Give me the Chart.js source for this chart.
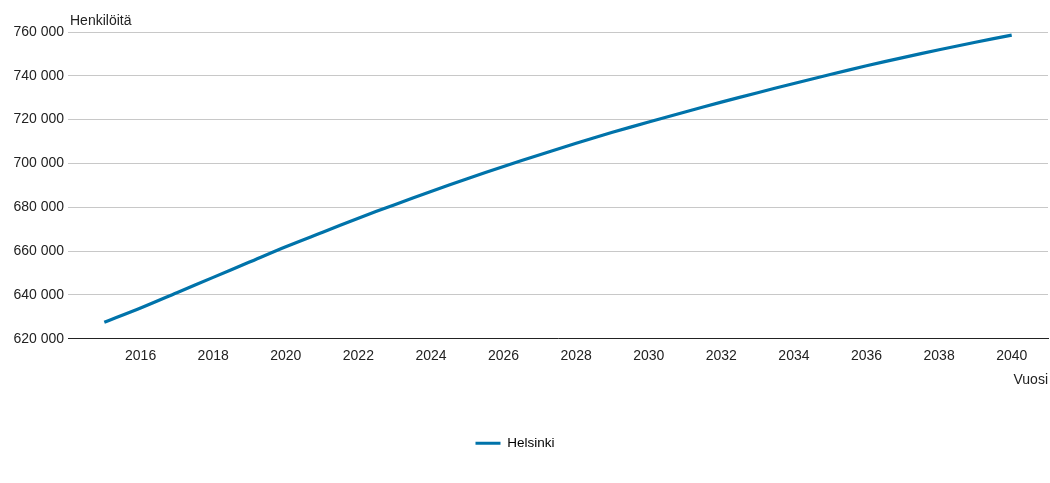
<!DOCTYPE html>
<html lang="fi">
<head>
<meta charset="utf-8">
<script src="https://cdn.jsdelivr.net/npm/chart.js@4"></script>
<style>
  html, body { margin: 0; padding: 0; background: #fff; }
  #wrap { width: 1050px; height: 483px; position: relative; }
</style>
</head>
<body>
<div id="wrap"><canvas id="vaestoChart"></canvas></div>
<script>
// Helsingin väestöennuste 2015–2040
const vuodet = [2015, 2016, 2017, 2018, 2019, 2020, 2021, 2022, 2023, 2024, 2025, 2026, 2027,
                2028, 2029, 2030, 2031, 2032, 2033, 2034, 2035, 2036, 2037, 2038, 2039, 2040];
const helsinki = [627500, 634000, 641000, 648000, 655000, 662000, 668500, 675000, 681200, 687200,
                  693000, 698600, 704000, 709200, 714200, 718900, 723500, 728000, 732300, 736500,
                  740600, 744600, 748300, 751900, 755300, 758600];
const xTicks = [2016, 2018, 2020, 2022, 2024, 2026, 2028, 2030, 2032, 2034, 2036, 2038, 2040];
const yTicks = [620000, 640000, 660000, 680000, 700000, 720000, 740000, 760000];

const FONT = '"Liberation Sans", Arial, sans-serif';
const TEXT = '#222';

// "Henkilöitä" above the plot, left aligned with the y axis
const yTitlePlugin = {
    id: 'yTitle',
    afterDraw(chart) {
        const { ctx, chartArea } = chart;
        ctx.save();
        ctx.font = '14px ' + FONT;
        ctx.fillStyle = TEXT;
        ctx.textAlign = 'left';
        ctx.textBaseline = 'alphabetic';
        ctx.fillText('Henkilöitä', chartArea.left + 2, 25);
        ctx.restore();
    }
};

// legend sits a little left of the canvas centre
const legendShift = {
    id: 'legendShift',
    afterLayout(chart) {
        const lg = chart.legend;
        if (!lg) return;
        lg.left -= 9;
        lg.right -= 9;
        (lg.legendHitBoxes || []).forEach(b => { b.left -= 9; });
    }
};

new Chart(document.getElementById('vaestoChart'), {
    type: 'line',
    data: {
        datasets: [{
            label: 'Helsinki',
            data: vuodet.map((v, i) => ({ x: v, y: helsinki[i] })),
            borderColor: '#0073aa',
            backgroundColor: '#0073aa',
            borderWidth: 3.2,
            pointRadius: 0,
            tension: 0.3,
            fill: false
        }]
    },
    options: {
        responsive: true,
        maintainAspectRatio: false,
        animation: false,
        layout: { padding: { top: 32, right: 2, left: 0, bottom: 23 } },
        plugins: {
            tooltip: { enabled: false },
            legend: {
                position: 'bottom',
                labels: {
                    color: TEXT,
                    font: { family: FONT, size: 13.5 },
                    boxWidth: 25,
                    boxHeight: 3,
                    padding: 10,
                    generateLabels: (chart) => chart.data.datasets.map((ds, i) => ({
                        text: ds.label,
                        fillStyle: ds.borderColor,
                        strokeStyle: ds.borderColor,
                        lineWidth: 0,
                        datasetIndex: i
                    }))
                }
            }
        },
        scales: {
            x: {
                type: 'linear',
                min: 2014,
                max: 2041,
                afterBuildTicks: (axis) => { axis.ticks = xTicks.map(v => ({ value: v })); },
                ticks: {
                    color: TEXT,
                    font: { family: FONT, size: 14 },
                    padding: 9,
                    maxRotation: 0,
                    callback: (v) => String(v)
                },
                grid: { display: false, drawTicks: false },
                border: { display: true, color: '#222', width: 1 },
                title: {
                    display: true,
                    text: 'Vuosi',
                    align: 'end',
                    color: TEXT,
                    font: { family: FONT, size: 14, lineHeight: 1 },
                    padding: { top: 0, bottom: 39 }
                }
            },
            y: {
                min: 620000,
                max: 760000,
                afterBuildTicks: (axis) => { axis.ticks = yTicks.map(v => ({ value: v })); },
                afterFit: (axis) => { axis.width = 68; },
                ticks: {
                    color: TEXT,
                    font: { family: FONT, size: 14 },
                    padding: 4,
                    callback: (v) => String(v).replace(/\B(?=(\d{3})+(?!\d))/g, ' ')
                },
                grid: { color: '#c8c8c8', lineWidth: 1, drawTicks: false },
                border: { display: false }
            }
        }
    },
    plugins: [yTitlePlugin, legendShift]
});
</script>
</body>
</html>
